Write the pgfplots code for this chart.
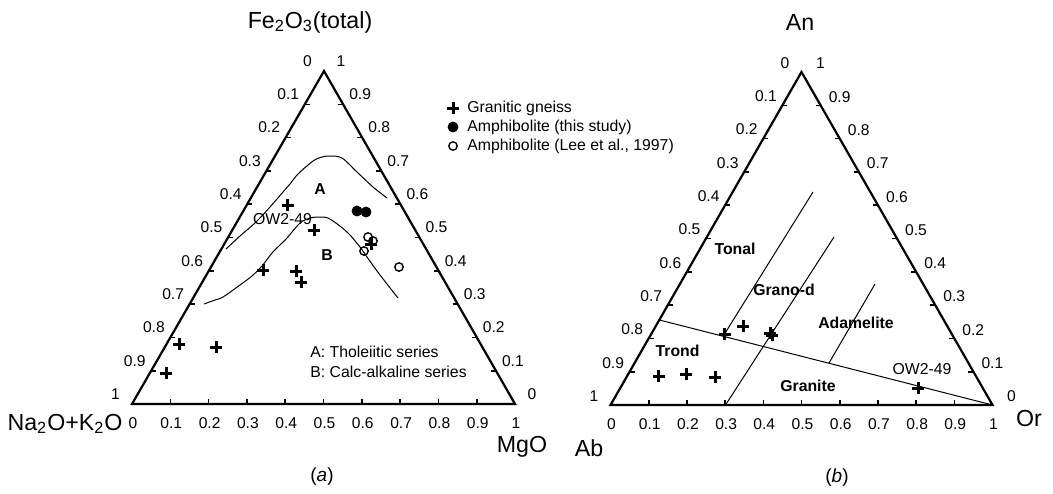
\documentclass[border=0pt]{standalone}
\usepackage{pgfplots}
\pgfplotsset{compat=1.18}
\usepackage{fontspec}
\setmainfont{Liberation Sans}
\tikzset{
  tl/.style={font=\fontsize{7.8}{8}\selectfont, inner sep=0pt, anchor=center},
  big/.style={font=\fontsize{11.6}{13}\selectfont, inner sep=0pt, anchor=center},
  txt/.style={font=\fontsize{7.9}{9}\selectfont, inner sep=0pt},
  bld/.style={font=\fontsize{7.9}{9}\selectfont\bfseries, inner sep=0pt, anchor=center},
}
\begin{document}
\begin{tikzpicture}
\begin{axis}[
  scale only axis, width=526.5pt, height=246.5pt,
  xmin=0, xmax=1053, ymin=0, ymax=493, y dir=reverse,
  hide axis, clip=false,
]
% ---------------- triangle (a): apex (324,71), base 132..515 at y=404 ----------------
\addplot[black, line width=1.1pt, line join=miter, mark=none] coordinates {(323,404) (515,404) (324,71) (132,404) (323,404)};
% ---------------- triangle (b): apex (801.5,72), base 610.5..992.5 at y=405 ----------------
\addplot[black, line width=1.1pt, line join=miter, mark=none] coordinates {(801,405) (992.5,405) (801.5,72) (610.5,405) (801,405)};

% tick labels
\pgfplotsinvokeforeach{0,0.1,0.2,0.3,0.4,0.5,0.6,0.7,0.8,0.9,1}{
  \node[tl] at (axis cs:{324-192*#1-16.5},{71+333*#1-10}) {#1};
  \node[tl] at (axis cs:{515-191*#1+17},{404-333*#1-10}) {#1};
  \node[tl] at (axis cs:{132+383*#1+1},423) {#1};
  \node[tl] at (axis cs:{801.5-191*#1-16.5},{72+333*#1-9}) {#1};
  \node[tl] at (axis cs:{992.5-191*#1+19},{405-333*#1-8.5}) {#1};
  \node[tl] at (axis cs:{610.5+382*#1+1},424) {#1};
}
% tick marks
\pgfplotsinvokeforeach{0.1,0.2,0.3,0.4,0.5,0.6,0.7,0.8,0.9}{
  \draw[line width=0.8pt] (axis cs:{324-192*#1},{71+333*#1}) -- (axis cs:{324-192*#1+5},{71+333*#1});
  \draw[line width=0.8pt] (axis cs:{515-191*#1},{404-333*#1}) -- (axis cs:{515-191*#1-5},{404-333*#1});
  \draw[line width=0.8pt] (axis cs:{132+383*#1},404) -- (axis cs:{132+383*#1},399);
  \draw[line width=0.8pt] (axis cs:{801.5-191*#1},{72+333*#1}) -- (axis cs:{801.5-191*#1+5},{72+333*#1});
  \draw[line width=0.8pt] (axis cs:{992.5-191*#1},{405-333*#1}) -- (axis cs:{992.5-191*#1-5},{405-333*#1});
  \draw[line width=0.8pt] (axis cs:{610.5+382*#1},405) -- (axis cs:{610.5+382*#1},400);
}

% axis names
\node[big] at (axis cs:310,22) {Fe\textsubscript{2}O\textsubscript{3}(total)};
\node[big] at (axis cs:65,424) {Na\textsubscript{2}O+K\textsubscript{2}O};
\node[big] at (axis cs:522,447) {MgO};
\node[big] at (axis cs:800,23) {An};
\node[big] at (axis cs:589,448) {Ab};
\node[big] at (axis cs:1029,419) {Or};
\node[font=\fontsize{9.5}{11}\selectfont, inner sep=0pt] at (axis cs:322,477) {(\textit{a})};
\node[font=\fontsize{9.5}{11}\selectfont, inner sep=0pt] at (axis cs:837,478) {(\textit{b})};

% ---------------- series boundaries (a) ----------------
\addplot[black, line width=0.5pt, smooth, tension=0.5, mark=none] coordinates {
 (226,249) (240,236) (256,222) (270,207) (283,192) (290,184) (298,174) (313,161) (322,157) (330,156) (342,158) (357,172) (373,187) (387,198)};
\addplot[black, line width=0.5pt, smooth, tension=0.5, mark=none] coordinates {
 (204,304) (215,300) (223,297) (240,285) (252,276) (262,266) (272,253) (280,245) (287,238) (300,223) (310,218) (320,217) (328,218) (340,226) (350,235) (360,247) (367,257) (377,271) (387,284) (398,298)};
\node[bld] at (axis cs:320,189) {A};
\node[bld] at (axis cs:327,255) {B};
\node[txt, anchor=center] at (axis cs:282.5,219) {OW2-49};
\node[txt, anchor=west] at (axis cs:310,352) {A: Tholeiitic series};
\node[txt, anchor=west] at (axis cs:310,372) {B: Calc-alkaline series};

% data (a)
\addplot[only marks, mark=+, mark size=3pt, mark options={line width=1.5pt}] coordinates {
 (287.5,205) (314,230) (263,270) (296,271) (301,282) (179,344) (216,347) (166,373) (371,244)};
\addplot[only marks, mark=*, mark size=2.5pt, mark options={fill=black}] coordinates {
 (357,211) (366,212)};
\addplot[only marks, mark=o, mark size=2.1pt, mark options={line width=0.7pt}] coordinates {
 (368,237) (373,241) (364,251) (399,267)};

% legend
\addplot[only marks, mark=+, mark size=3pt, mark options={line width=1.5pt}] coordinates {(453,108)};
\addplot[only marks, mark=*, mark size=2.5pt, mark options={fill=black}] coordinates {(453,127)};
\addplot[only marks, mark=o, mark size=2.1pt, mark options={line width=0.7pt}] coordinates {(453,146)};
\node[txt, anchor=west] at (axis cs:467,108) {Granitic gneiss};
\node[txt, anchor=west] at (axis cs:467,127) {Amphibolite (this study)};
\node[txt, anchor=west] at (axis cs:467,146) {Amphibolite (Lee et al., 1997)};

% ---------------- field boundaries (b) ----------------
\addplot[black, line width=0.5pt, mark=none] coordinates {(659.5,320) (992.5,405)};
\addplot[black, line width=0.5pt, mark=none] coordinates {(725.5,405) (834,237)};
\addplot[black, line width=0.5pt, mark=none] coordinates {(724.5,334) (813,192)};
\addplot[black, line width=0.5pt, mark=none] coordinates {(829,363) (875,284)};
\node[bld] at (axis cs:735,249) {Tonal};
\node[bld] at (axis cs:784,290) {Grano-d};
\node[bld] at (axis cs:856,323) {Adamelite};
\node[bld] at (axis cs:677.5,351) {Trond};
\node[bld] at (axis cs:808,386) {Granite};
\node[txt, anchor=center] at (axis cs:922,369) {OW2-49};

% data (b)
\addplot[only marks, mark=+, mark size=3pt, mark options={line width=1.5pt}] coordinates {
 (724.5,334) (743,326) (770,333) (772,335) (658.5,376) (686,374) (715,377) (918,388)};
\end{axis}
\useasboundingbox (current axis.south west) rectangle (current axis.north east);
\end{tikzpicture}
\end{document}
